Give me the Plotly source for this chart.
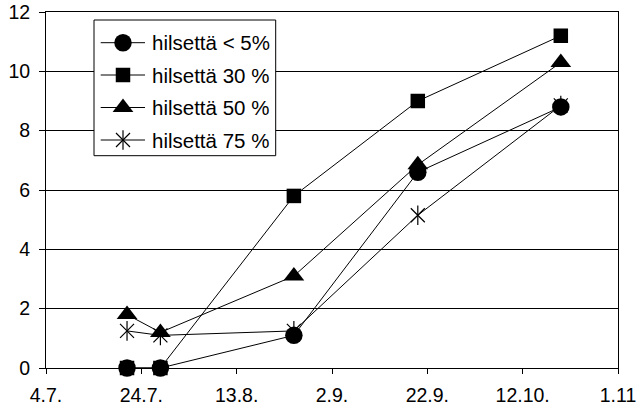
import plotly.graph_objects as go

# Sampling dates and measured values per hulling category
dates = ["2003-07-21", "2003-07-28", "2003-08-25", "2003-09-20", "2003-10-20"]
hils_5 = [0, 0, 1.1, 6.6, 8.8]
hils_30 = [0, 0, 5.8, 9.0, 11.2]
hils_50 = [1.8, 1.2, 3.1, 6.85, 10.3]
hils_75 = [1.25, 1.1, 1.25, 5.15, 8.85]

series_names = ["hilsettä < 5%", "hilsettä 30 %", "hilsettä 50 %", "hilsettä 75 %"]

tick_dates = ["2003-07-04", "2003-07-24", "2003-08-13", "2003-09-02",
              "2003-09-22", "2003-10-12", "2003-11-01"]
tick_labels = ["4.7.", "24.7.", "13.8.", "2.9.", "22.9.", "12.10.", "1.11"]

FONT = dict(family="Liberation Sans, Arial, sans-serif", size=19.5, color="black")
KEY_FONT = dict(family="Liberation Sans, Arial, sans-serif", size=20.5, color="black")
INK = "black"

# marker styles per series
circle = dict(symbol="circle", size=17.5, color=INK)
square = dict(symbol="square", size=14.5, color=INK)
triangle = dict(symbol="triangle-up", size=18, color=INK)
xthin = dict(symbol="x-thin-open", size=14, color=INK, line=dict(width=1.2, color=INK))
vbar = dict(symbol="line-ns-open", size=14, color=INK, line=dict(width=1.2, color=INK))

fig = go.Figure()


def series(y, marker, mode="lines+markers"):
    fig.add_trace(go.Scatter(
        x=dates, y=y, mode=mode, marker=marker, cliponaxis=False,
        line=dict(color=INK, width=1), showlegend=False, hoverinfo="x+y",
    ))


# draw order: circles end up on top
series(hils_30, square)
series(hils_50, triangle)
series(hils_75, xthin)
series(hils_75, vbar, mode="markers")
series(hils_5, circle)

# key box drawn on a pixel-scaled overlay axis pair
L, R, T, B = 46, 618, 12, 368
box_x = [94, 275.7, 275.7, 94, 94]
box_y = [20, 20, 155.7, 155.7, 20]
fig.add_trace(go.Scatter(
    x=box_x, y=box_y, xaxis="x2", yaxis="y2", mode="lines",
    fill="toself", fillcolor="white", line=dict(color=INK, width=1),
    showlegend=False, hoverinfo="skip",
))

rows = [42.7, 75.0, 107.5, 140.0]
key_markers = [[circle], [square], [triangle], [xthin, vbar]]
seg_x0, seg_x1, mark_x, text_x = 100.7, 145.0, 123.0, 150.0
for name, ry, marks in zip(series_names, rows, key_markers):
    fig.add_trace(go.Scatter(
        x=[seg_x0, seg_x1], y=[ry, ry], xaxis="x2", yaxis="y2", mode="lines",
        line=dict(color=INK, width=1), showlegend=False, hoverinfo="skip",
    ))
    for m in marks:
        fig.add_trace(go.Scatter(
            x=[mark_x], y=[ry], xaxis="x2", yaxis="y2", mode="markers",
            marker=m, showlegend=False, hoverinfo="skip",
        ))
    fig.add_annotation(
        x=text_x, y=ry, xref="x2", yref="y2", text=name, showarrow=False,
        xanchor="left", yanchor="middle", font=KEY_FONT,
    )

fig.update_layout(
    width=639, height=410, autosize=False,
    margin=dict(l=L, r=639 - R, t=T, b=410 - B, pad=0, autoexpand=False),
    paper_bgcolor="white", plot_bgcolor="white",
    font=FONT,
    xaxis=dict(
        type="date", range=[tick_dates[0], tick_dates[-1]],
        tickmode="array", tickvals=tick_dates, ticktext=tick_labels,
        ticks="outside", ticklen=5, tickcolor=INK, tickwidth=1,
        ticklabelstandoff=5,
        showline=True, linecolor=INK, linewidth=1, mirror=True,
        showgrid=False, zeroline=False, fixedrange=True, automargin=False,
    ),
    yaxis=dict(
        range=[0, 12], tickmode="linear", tick0=0, dtick=2,
        ticks="outside", ticklen=6, tickcolor=INK, tickwidth=1,
        ticklabelstandoff=5,
        showline=True, linecolor=INK, linewidth=1, mirror=True,
        showgrid=True, gridcolor=INK, gridwidth=1, zeroline=False,
        fixedrange=True, automargin=False,
    ),
    xaxis2=dict(overlaying="x", anchor="y2", range=[L, R], visible=False,
                fixedrange=True),
    yaxis2=dict(overlaying="y", anchor="x2", range=[B, T], visible=False,
                fixedrange=True),
    showlegend=False,
)

fig.write_html("out.html")
